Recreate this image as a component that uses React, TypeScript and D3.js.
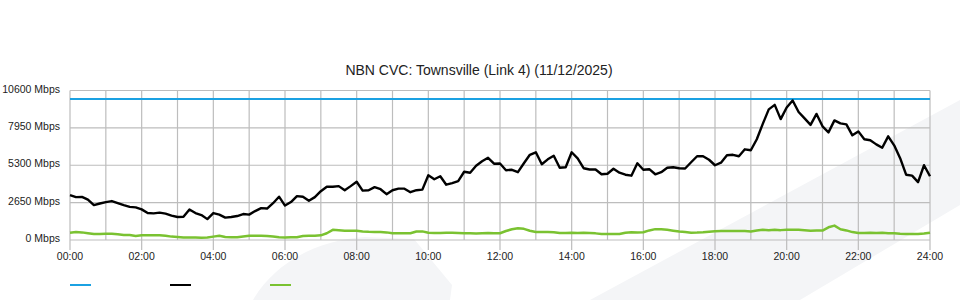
import React from "react";
import * as d3 from "d3";

const title = "NBN CVC: Townsville (Link 4) (11/12/2025)";
const yTicks = [0, 2650, 5300, 7950, 10600];
const xTickHours = [0, 2, 4, 6, 8, 10, 12, 14, 16, 18, 20, 22, 24];
const stepMinutes = 10;

const capacityTimes = [0, 1440];
const capacityValues = [10000, 10000];

const trafficValues = [
  3180, 3040, 3060, 2860, 2470, 2590, 2690, 2760, 2610, 2470,
  2350, 2310, 2170, 1910, 1890, 1940, 1870, 1730, 1630, 1650,
  2160, 1910, 1770, 1480, 1910, 1800, 1590, 1630, 1700, 1840,
  1800, 2050, 2260, 2230, 2610, 3070, 2440, 2690, 3110, 3070,
  2780, 3040, 3460, 3780, 3780, 3820, 3530, 3820, 4130, 3500,
  3530, 3750, 3600, 3250, 3530, 3640, 3640, 3390, 3530, 3570,
  4590, 4310, 4520, 3920, 4030, 4170, 4840, 4770, 5260, 5580,
  5830, 5410, 5420, 4950, 4980, 4810, 5440, 6040, 6220, 5370,
  5720, 5970, 5120, 5160, 6220, 5790, 5090, 5000, 5000, 4660,
  4700, 5050, 4770, 4630, 4560, 5440, 4980, 5020, 4660, 4810,
  5120, 5160, 5090, 5070, 5510, 5940, 5940, 5690, 5300, 5480,
  6010, 6040, 5940, 6430, 6360, 7140, 8230, 9260, 9580, 8570,
  9400, 9890, 9080, 8620, 8160, 8940, 8060, 7630, 8480, 8270,
  8200, 7420, 7700, 7140, 7070, 6780, 6540, 7350, 6710, 5800,
  4630, 4560, 4100, 5300, 4520,
];

const otherValues = [
  520, 560, 540, 480, 420, 430, 450, 440, 400, 360,
  350, 290, 330, 340, 330, 340, 300, 240, 220, 170,
  180, 170, 160, 180, 240, 300, 220, 190, 190, 250,
  300, 310, 300, 290, 250, 190, 180, 190, 200, 280,
  300, 310, 330, 480, 720, 690, 660, 650, 650, 610,
  580, 560, 560, 540, 480, 470, 470, 480, 600, 610,
  510, 490, 500, 510, 510, 500, 480, 470, 460, 480,
  490, 470, 480, 640, 760, 830, 790, 660, 570, 560,
  560, 550, 500, 500, 510, 490, 510, 500, 470, 430,
  420, 430, 430, 520, 550, 540, 550, 680, 770, 760,
  720, 660, 600, 560, 520, 530, 550, 590, 620, 640,
  640, 640, 640, 630, 610, 680, 720, 700, 720, 700,
  730, 730, 720, 690, 660, 680, 670, 900, 1020, 760,
  680, 560, 500, 500, 510, 500, 510, 480, 470, 440,
  420, 420, 420, 460, 520,
];

const seriesColors = ["#1ba1e2", "#000000", "#7ac231"];

const W = 960;
const H = 300;
const left = 70;
const right = 930;
const top = 90.5;
const bottom = 240;
const font = "'Liberation Sans', Arial, Helvetica, sans-serif";

export default function App() {
  const x = d3.scaleLinear().domain([0, 1440]).range([left, right]);
  const y = d3.scaleLinear().domain([0, 10600]).range([bottom, top]);

  const line = d3
    .line<[number, number]>()
    .x((d) => x(d[0]))
    .y((d) => y(d[1]));

  const trafficPts: [number, number][] = trafficValues.map((v, i) => [i * stepMinutes, v]);
  const otherPts: [number, number][] = otherValues.map((v, i) => [i * stepMinutes, v]);
  const capPts: [number, number][] = capacityValues.map((v, i) => [capacityTimes[i], v]);

  const hourLines = d3.range(0, 25);

  return (
    <div style={{ position: "absolute", left: 0, top: 0 }}>
      <svg width={W} height={H} style={{ display: "block", background: "#fff" }}>
        {/* watermark */}
        <path d="M253,300 C275,262 318,240 365,237 L414,239 L452,285 L450,300 Z" fill="#f4f5f7" />
        <path d="M590,300 L960,100 L960,205 L800,300 Z" fill="#f4f5f7" />

        <text x={479} y={75} textAnchor="middle" fontFamily={font} fontSize={14} fill="#222">
          {title}
        </text>

        {/* grid */}
        {hourLines.map((h) => (
          <line key={"v" + h} x1={x(h * 60)} x2={x(h * 60)} y1={top} y2={bottom} stroke="#bdbdbd" strokeWidth={1.2} />
        ))}
        {yTicks.map((t) => (
          <line key={"h" + t} x1={left} x2={right} y1={y(t)} y2={y(t)} stroke="#bdbdbd" strokeWidth={1.2} />
        ))}

        {/* y labels */}
        {yTicks.map((t) => (
          <text key={"yl" + t} x={60} y={y(t) + 2} textAnchor="end" fontFamily={font} fontSize={10.5} fill="#222">
            {t} Mbps
          </text>
        ))}

        {/* x ticks */}
        {xTickHours.map((h) => (
          <g key={"xt" + h}>
            <line x1={x(h * 60)} x2={x(h * 60)} y1={bottom} y2={bottom + 10} stroke="#bdbdbd" strokeWidth={1.2} />
            <text x={x(h * 60)} y={260} textAnchor="middle" fontFamily={font} fontSize={10.5} fill="#222">
              {String(h).padStart(2, "0")}:00
            </text>
          </g>
        ))}

        {/* series */}
        <path d={line(capPts) || ""} fill="none" stroke={seriesColors[0]} strokeWidth={2} />
        <path d={line(otherPts) || ""} fill="none" stroke={seriesColors[2]} strokeWidth={2.5} strokeLinejoin="round" />
        <path d={line(trafficPts) || ""} fill="none" stroke={seriesColors[1]} strokeWidth={2.4} strokeLinejoin="round" />

        {/* legend */}
        {seriesColors.map((c, i) => (
          <line key={"lg" + i} x1={70 + i * 100} x2={91 + i * 100} y1={285} y2={285} stroke={c} strokeWidth={2} />
        ))}
      </svg>
    </div>
  );
}
